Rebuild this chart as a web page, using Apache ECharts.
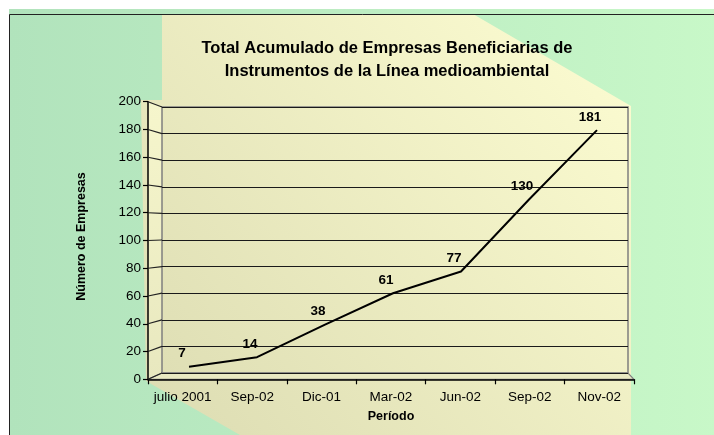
<!DOCTYPE html>
<html>
<head>
<meta charset="utf-8">
<script src="https://cdn.jsdelivr.net/npm/echarts@6/dist/echarts.min.js"></script>
<style>
html, body { margin: 0; padding: 0; background: #fff; }
#chart { width: 714px; height: 435px; }
</style>
</head>
<body>
<div id="chart"></div>
<script>
// datos
var periodos = ['julio 2001', 'Sep-02', 'Dic-01', 'Mar-02', 'Jun-02', 'Sep-02', 'Nov-02'];
var empresas = [7, 14, 38, 61, 77, 130, 181];
var yTicks = [0, 20, 40, 60, 80, 100, 120, 140, 160, 180, 200];

var titulo = 'Total Acumulado de Empresas Beneficiarias de\nInstrumentos de la Línea medioambiental';
var FONT = '"Liberation Sans", Arial, sans-serif';

var chart = echarts.init(document.getElementById('chart'));

// fondo (area del grafico + franja amarilla)
var fondo = [
  { id: 'bg', type: 'rect', z: -10, shape: { x: 9, y: 9, width: 710, height: 430 },
    style: { fill: new echarts.graphic.LinearGradient(0, 0, 1, 0, [
      { offset: 0, color: '#b1e3bc' }, { offset: 0.5, color: '#bdedc3' }, { offset: 1, color: '#c8f8c8' }]) } },
  { id: 'banda', type: 'polygon', z: -9,
    shape: { points: [[162, 14], [473, 14], [631, 106], [631, 435], [240, 435], [146, 381], [141, 100], [162, 100]] },
    style: { fill: new echarts.graphic.LinearGradient(1, 0, 0, 1, [
      { offset: 0, color: '#fdfdd2' }, { offset: 1, color: '#dcdcb2' }]) } },
  { id: 'borde', type: 'polyline', z: -8, shape: { points: [[9.5, 440], [9.5, 14.5], [720, 14.5]] },
    style: { stroke: '#222', lineWidth: 1, fill: null } },
  { id: 'titulo', type: 'text', z: 5, x: 387, y: 60,
    style: { text: titulo, textAlign: 'center', textVerticalAlign: 'middle', font: 'bold 16.5px ' + FONT,
      lineHeight: 23, fill: '#000' } }
];

var option = {
  animation: false,
  graphic: { elements: fondo },
  grid: [
    // pared del fondo
    { left: 162, right: 86, top: 107, bottom: 62, show: true, borderColor: '#7f7f7f', borderWidth: 1.5,
      backgroundColor: 'transparent', outerBoundsMode: 'none', containLabel: false },
    // ejes del frente
    { left: 148, right: 80, top: 101.7, bottom: 55.7, outerBoundsMode: 'none', containLabel: false },
    // profundidad media, donde va la linea
    { left: 155, right: 83, top: 104.3, bottom: 58.8, outerBoundsMode: 'none', containLabel: false }
  ],
  xAxis: [
    { gridIndex: 0, type: 'category', data: periodos, show: false },
    { gridIndex: 1, type: 'category', data: periodos, boundaryGap: true,
      axisLine: { show: true, lineStyle: { color: '#000', width: 1.5 } },
      axisTick: { show: true, length: 5, alignWithLabel: false, lineStyle: { color: '#000', width: 1.2 } },
      axisLabel: { show: true, interval: 0, color: '#000', fontSize: 13.5, fontFamily: FONT, margin: 11 },
      splitLine: { show: false },
      name: 'Período', nameLocation: 'middle', nameGap: 31,
      nameTextStyle: { color: '#000', fontWeight: 'bold', fontSize: 12.5, fontFamily: FONT } },
    { gridIndex: 2, type: 'category', data: periodos, show: false }
  ],
  yAxis: [
    { gridIndex: 0, type: 'value', min: 0, max: 200, interval: 20,
      axisLine: { show: false }, axisTick: { show: false }, axisLabel: { show: false },
      splitLine: { show: true, lineStyle: { color: '#1a1a1a', width: 1 } } },
    { gridIndex: 1, type: 'value', min: 0, max: 200, interval: 20,
      axisLine: { show: true, lineStyle: { color: '#000', width: 1.5 } },
      axisTick: { show: true, length: 5, lineStyle: { color: '#000', width: 1.2 } },
      axisLabel: { show: true, color: '#000', fontSize: 13.5, fontFamily: FONT, margin: 7 },
      splitLine: { show: false },
      name: 'Número de Empresas', nameLocation: 'middle', nameGap: 60, nameRotate: 90,
      nameTextStyle: { color: '#000', fontWeight: 'bold', fontSize: 12.5, fontFamily: FONT,
        padding: [0, 0, 0, 8] } },
    { gridIndex: 2, type: 'value', min: 0, max: 200, show: false, splitLine: { show: false } }
  ],
  series: [{
    name: 'Empresas',
    type: 'line',
    xAxisIndex: 2,
    yAxisIndex: 2,
    data: empresas,
    symbol: 'circle',
    symbolSize: 1,
    showSymbol: true,
    itemStyle: { color: 'rgba(0,0,0,0)' },
    lineStyle: { color: '#000', width: 2 },
    label: { show: true, position: 'top', distance: 5.5, offset: [-7, 0], color: '#000',
      fontSize: 13.5, fontWeight: 'bold', fontFamily: FONT },
    z: 10
  }]
};

chart.setOption(option);

// efecto 3D: uniones entre el eje del frente y la pared del fondo
var rectFondo = chart.getModel().getComponent('grid', 0).coordinateSystem.getRect();
var rectFrente = chart.getModel().getComponent('grid', 1).coordinateSystem.getRect();
var extra = [];
var yF0 = chart.convertToPixel({ yAxisIndex: 1 }, 0);
var yB0 = chart.convertToPixel({ yAxisIndex: 0 }, 0);
var yFTop = chart.convertToPixel({ yAxisIndex: 1 }, 200);
var yBTop = chart.convertToPixel({ yAxisIndex: 0 }, 200);

extra.push({ id: 'pared_lat', type: 'polygon', z: -7,
  shape: { points: [[rectFrente.x, yFTop], [rectFondo.x, yBTop], [rectFondo.x, yB0], [rectFrente.x, yF0]] },
  style: { fill: new echarts.graphic.LinearGradient(0, 0, 0, 1, [
    { offset: 0, color: '#f6f6cc' }, { offset: 1, color: '#e8e8bf' }]) } });
extra.push({ id: 'piso', type: 'polygon', z: -7,
  shape: { points: [[rectFrente.x, yF0], [rectFondo.x, yB0], [rectFondo.x + rectFondo.width, yB0],
    [rectFrente.x + rectFrente.width, yF0]] },
  style: { fill: '#e9e9c2', stroke: '#7f7f7f', lineWidth: 1.2 } });

yTicks.forEach(function (v, i) {
  var yF = chart.convertToPixel({ yAxisIndex: 1 }, v);
  var yB = chart.convertToPixel({ yAxisIndex: 0 }, v);
  extra.push({ id: 'union' + i, type: 'line', z: 1,
    shape: { x1: rectFrente.x, y1: yF, x2: rectFondo.x, y2: yB },
    style: { stroke: '#222', lineWidth: 1.2 } });
});

chart.setOption({ graphic: { elements: fondo.concat(extra) } });
</script>
</body>
</html>
